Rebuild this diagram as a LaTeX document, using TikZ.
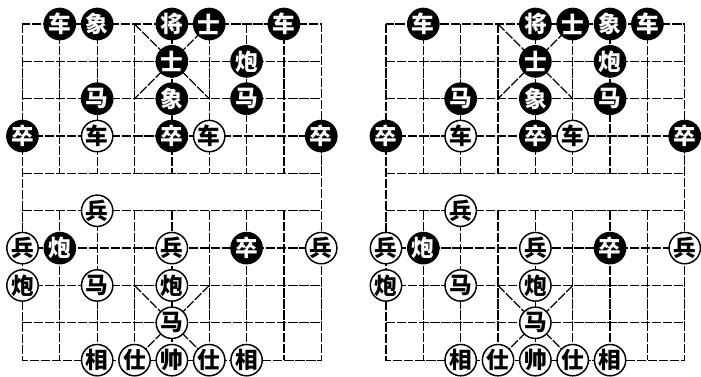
\documentclass[tikz,border=0pt]{standalone}
\usepackage{fontspec}
\newfontfamily\cjk{Noto Sans CJK SC}
\usepackage{tikz}

\begin{document}
\begin{tikzpicture}[x=28pt,y=-28pt,
  gridline/.style={line width=0.95pt,dash pattern=on 7pt off 1.3pt},
  qizi/.style={circle,inner sep=0pt,font=\cjk\bfseries\fontsize{17}{17}\selectfont},
  hei/.style={qizi,fill=black,text=white,minimum size=24.5pt},
  hong/.style={qizi,fill=white,draw=black,line width=1.1pt,text=black,minimum size=23.5pt}]
  \useasboundingbox (0,0) rectangle (18.77,10.094);
  \foreach \bx/\bn/\xc in {0.602/L/2,10.335/R/6}{
    \begin{scope}[shift={(\bx,0.643)}]
      % board
      \draw[gridline] (0,0) rectangle (8,9);
      \foreach \r in {1,...,8}
        \draw[gridline] (0,\r) -- (8,\r);
      \foreach \c in {1,...,7}{
        \draw[gridline] (\c,0) -- (\c,4);
        \draw[gridline] (\c,5) -- (\c,9);
      }
      % palaces
      \draw[gridline] (3,0) -- (5,2) (5,0) -- (3,2);
      \draw[gridline] (3,7) -- (5,9) (5,7) -- (3,9);
      % black side
      \foreach \c/\r/\t in {1/0/车,7/0/车,4/0/将,5/0/士,\xc/0/象,
          4/1/士,6/1/炮,2/2/马,4/2/象,6/2/马,
          0/3/卒,4/3/卒,8/3/卒,1/6/炮,6/6/卒}
        \node[hei] (\bn-\c-\r) at (\c,\r) {\t};
      % red side
      \foreach \c/\r/\t in {2/3/车,5/3/车,2/5/兵,0/6/兵,4/6/兵,8/6/兵,
          0/7/炮,2/7/马,4/7/炮,4/8/马,
          2/9/相,3/9/仕,4/9/帅,5/9/仕,6/9/相}
        \node[hong] (\bn-\c-\r) at (\c,\r) {\t};
    \end{scope}
  }
\end{tikzpicture}
\end{document}
